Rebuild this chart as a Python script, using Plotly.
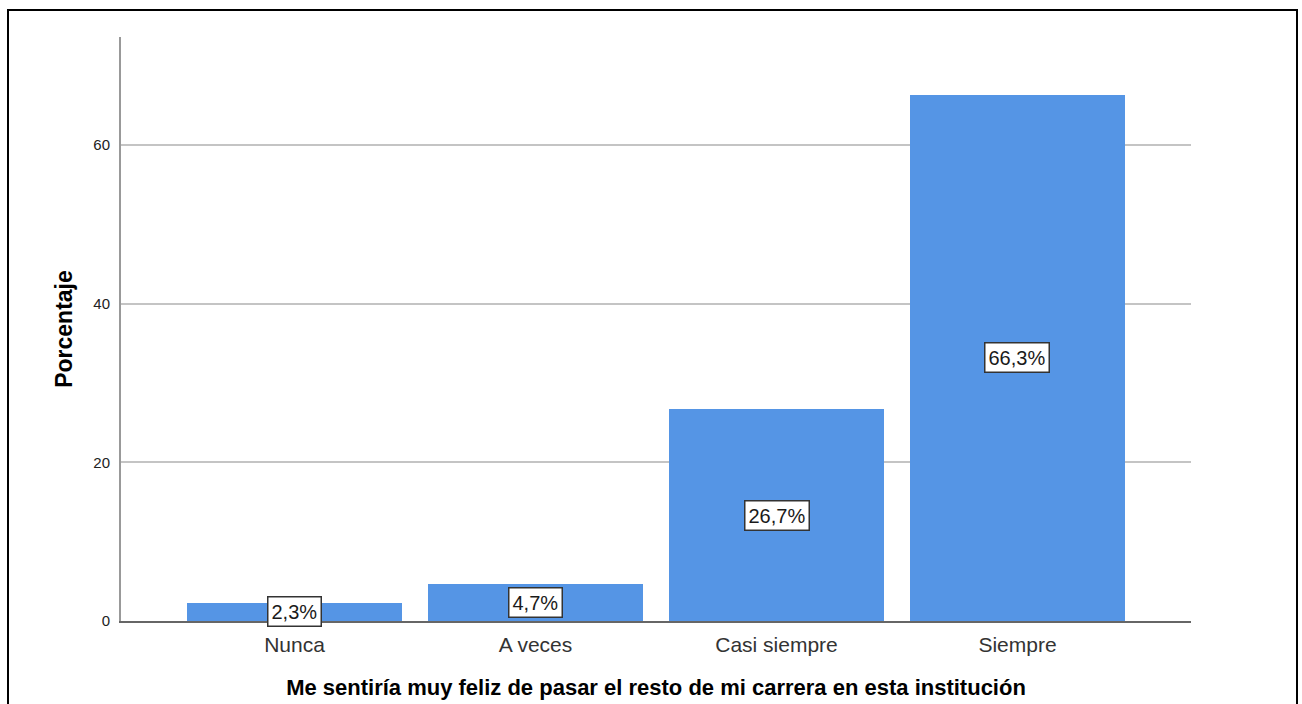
import plotly.graph_objects as go

# Response categories and their percentages
categorias = ["Nunca", "A veces", "Casi siempre", "Siempre"]
porcentajes = [2.3, 4.7, 26.7, 66.3]
etiquetas = ["2,3%", "4,7%", "26,7%", "66,3%"]
y_ticks = [0, 20, 40, 60]

W, H = 1302, 704
L, R, T, B = 121, 111, 37, 83
FONT = "Liberation Sans, Arial, sans-serif"

fig = go.Figure()
fig.add_trace(go.Bar(
    x=list(range(len(categorias))),
    y=porcentajes,
    width=0.896,
    marker=dict(color="#5595e5", line=dict(width=0)),
    hoverinfo="skip",
))

# Boxed value labels centred inside each bar
for i, (v, t) in enumerate(zip(porcentajes, etiquetas)):
    fig.add_annotation(
        x=i, y=v / 2, text=t, showarrow=False,
        font=dict(family=FONT, size=20, color="#1a1a1a"),
        bgcolor="white", bordercolor="#333333", borderwidth=1.5, borderpad=3,
    )

# Outer frame around the whole graphic
pw, ph = W - L - R, H - T - B
fig.add_shape(
    type="rect", xref="paper", yref="paper",
    x0=(8 - L) / pw, x1=(1297 - L) / pw,
    y0=-0.3, y1=(H - B - 10) / ph,
    line=dict(color="black", width=2), fillcolor="rgba(0,0,0,0)", layer="below",
)

fig.update_layout(
    width=W, height=H,
    margin=dict(l=L, r=R, t=T, b=B, autoexpand=False),
    paper_bgcolor="white", plot_bgcolor="white",
    showlegend=False, bargap=0,
    font=dict(family=FONT),
    xaxis=dict(
        range=[-0.72, 3.72], automargin=False,
        tickmode="array", tickvals=list(range(len(categorias))), ticktext=categorias,
        tickfont=dict(size=21, color="#333333"),
        showgrid=False, zeroline=False,
        showline=True, linecolor="#666666", linewidth=1.5,
        ticks="", ticklabelstandoff=4,
        title=dict(text="<b>Me sentiría muy feliz de pasar el resto de mi carrera en esta institución</b>",
                   font=dict(size=22, color="black"), standoff=25),
    ),
    yaxis=dict(
        range=[0, 73.6], automargin=False,
        tickmode="array", tickvals=y_ticks, ticktext=[str(v) for v in y_ticks],
        tickfont=dict(size=15, color="#222222"),
        showgrid=True, gridcolor="#c4c4c4", gridwidth=1.5,
        zeroline=False,
        showline=True, linecolor="#999999", linewidth=2,
        ticks="", ticklabelstandoff=6,
        title=dict(text="<b>Porcentaje</b>", font=dict(size=23, color="black"), standoff=14),
    ),
)

fig.write_html("out.html")
